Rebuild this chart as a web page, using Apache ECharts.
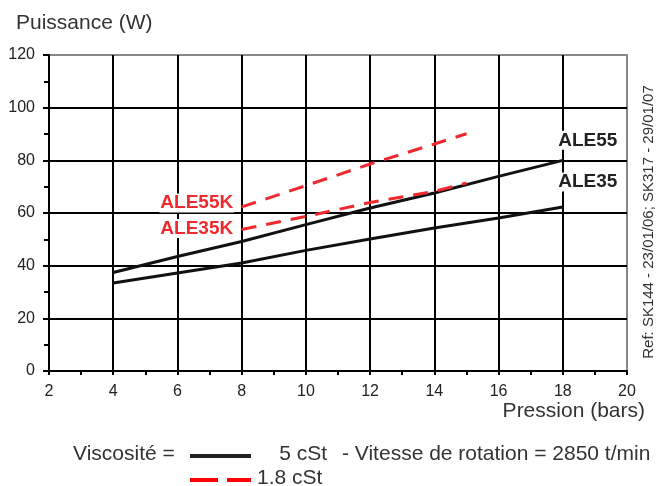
<!DOCTYPE html>
<html><head><meta charset="utf-8">
<script src="https://cdn.jsdelivr.net/npm/echarts@6/dist/echarts.min.js"></script>
<style>html,body{margin:0;padding:0;background:#fff}#c{width:660px;height:486px}</style>
</head><body><div id="c"></div>
<script>
// ---- data ----
const xTicks = [2,4,6,8,10,12,14,16,18,20];
const yTicks = [0,20,40,60,80,100,120];
const pressure = [4,6,8,10,12,14,16,18];
const ale55 = [37.4,43.5,49.2,55.6,61.9,67.6,73.9,80];
const ale35 = [33.4,37.2,41,45.8,50.1,54.3,58.1,62.3];
const pressureK = [8,10,12,14,15];
const ale55k = [62.3,70.4,78.6,86.2,90.1];
const ale35k = [53.7,58.7,64,68.2,71.4];
const seriesNames = ['ALE55','ALE35','ALE55K','ALE35K'];

const FONT = "'Liberation Sans', Arial, sans-serif";
const RED = '#ef2a2e';
const BLACK = '#111';

function build(xs, ys, labelIdx, label) {
  return xs.map((x, i) => {
    const d = {value: [x, ys[i]]};
    if (i === labelIdx) d.label = Object.assign({show: true}, label);
    return d;
  });
}
const lblBase = {fontFamily: FONT, fontWeight: 'bold', fontSize: 19, backgroundColor: '#fff', padding: [0, 1]};

const chart = echarts.init(document.getElementById('c'), null, {renderer: 'canvas'});
chart.setOption({
  animation: false,
  title: {text: 'Puissance (W)', left: 11, top: 8, textStyle: {fontFamily: FONT, fontSize: 21, fontWeight: 'normal', color: '#333'}},
  grid: {left: 49, right: 33, top: 55, bottom: 115, show: true, borderColor: '#888', borderWidth: 2, backgroundColor: '#fff'},
  xAxis: {
    type: 'value', min: xTicks[0], max: xTicks[xTicks.length-1], interval: 2,
    name: 'Pression (bars)', nameLocation: 'end', nameGap: 18,
    nameTextStyle: {fontFamily: FONT, fontSize: 21, color: '#333', align: 'right', verticalAlign: 'top', padding: [30,0,0,0]},
    axisLine: {lineStyle: {color: '#000', width: 2}},
    axisTick: {show: true, length: 4, lineStyle: {color: '#000', width: 2}},
    minorTick: {show: true, splitNumber: 2, length: 4, lineStyle: {color: '#000', width: 2}},
    axisLabel: {fontFamily: FONT, fontSize: 16, color: '#222', margin: 13},
    splitLine: {show: true, showMinLine: false, showMaxLine: false, lineStyle: {color: '#000', width: 2}}
  },
  yAxis: {
    type: 'value', min: yTicks[0], max: yTicks[yTicks.length-1], interval: 20,
    axisLine: {show: true, lineStyle: {color: '#000', width: 2}},
    axisTick: {show: true, length: 6, lineStyle: {color: '#000', width: 2}},
    minorTick: {show: true, splitNumber: 2, length: 5, lineStyle: {color: '#000', width: 2}},
    axisLabel: {fontFamily: FONT, fontSize: 16, color: '#222', margin: 14},
    splitLine: {show: true, showMinLine: false, showMaxLine: false, lineStyle: {color: '#000', width: 2}}
  },
  series: [
    {name: seriesNames[0], type: 'line', symbol: 'circle', symbolSize: 1, showSymbol: true, silent: true,
     itemStyle: {color: BLACK}, lineStyle: {color: BLACK, width: 3}, emphasis: {disabled: true}, z: 3,
     data: build(pressure, ale55, pressure.length-1, Object.assign({}, lblBase, {formatter: 'ALE55', color: '#222', position: 'top', distance: 10, offset: [25, 0]}))},
    {name: seriesNames[1], type: 'line', symbol: 'circle', symbolSize: 1, showSymbol: true, silent: true,
     itemStyle: {color: BLACK}, lineStyle: {color: BLACK, width: 3}, emphasis: {disabled: true}, z: 3,
     data: build(pressure, ale35, pressure.length-1, Object.assign({}, lblBase, {formatter: 'ALE35', color: '#222', position: 'top', distance: 15, offset: [25, 0]}))},
    {name: seriesNames[2], type: 'line', symbol: 'circle', symbolSize: 1, showSymbol: true, silent: true,
     itemStyle: {color: RED}, lineStyle: {color: RED, width: 3, type: [15, 10]}, emphasis: {disabled: true}, z: 4,
     data: build(pressureK, ale55k, 0, Object.assign({}, lblBase, {formatter: 'ALE55K', color: RED, position: 'left', distance: 7, offset: [0, -4]}))},
    {name: seriesNames[3], type: 'line', symbol: 'circle', symbolSize: 1, showSymbol: true, silent: true,
     itemStyle: {color: RED}, lineStyle: {color: RED, width: 3, type: [15, 10]}, emphasis: {disabled: true}, z: 4,
     data: build(pressureK, ale35k, 0, Object.assign({}, lblBase, {formatter: 'ALE35K', color: RED, position: 'left', distance: 7, offset: [0, -1]}))}
  ],
  graphic: [
    {type: 'text', x: 649, y: 222, rotation: Math.PI/2, style: {text: 'Ref: SK144 - 23/01/06; SK317 - 29/01/07', font: '15px ' + FONT, fill: '#333', textAlign: 'center', textVerticalAlign: 'middle'}},
    {type: 'text', x: 73, y: 454, style: {text: 'Viscosité =', font: '21px ' + FONT, fill: '#333', textVerticalAlign: 'middle'}},
    {type: 'line', shape: {x1: 190, y1: 456, x2: 251, y2: 456}, style: {stroke: '#222', lineWidth: 4}},
    {type: 'text', x: 327, y: 454, style: {text: '5 cSt', font: '21px ' + FONT, fill: '#333', textAlign: 'right', textVerticalAlign: 'middle'}},
    {type: 'text', x: 342, y: 454, style: {text: '- Vitesse de rotation = 2850 t/min', font: '21px ' + FONT, fill: '#333', textVerticalAlign: 'middle'}},
    {type: 'line', shape: {x1: 190, y1: 480, x2: 218, y2: 480}, style: {stroke: '#ff0000', lineWidth: 4}},
    {type: 'line', shape: {x1: 227, y1: 480, x2: 251, y2: 480}, style: {stroke: '#ff0000', lineWidth: 4}},
    {type: 'text', x: 257, y: 478, style: {text: '1.8 cSt', font: '21px ' + FONT, fill: '#333', textVerticalAlign: 'middle'}}
  ]
});
</script></body></html>
